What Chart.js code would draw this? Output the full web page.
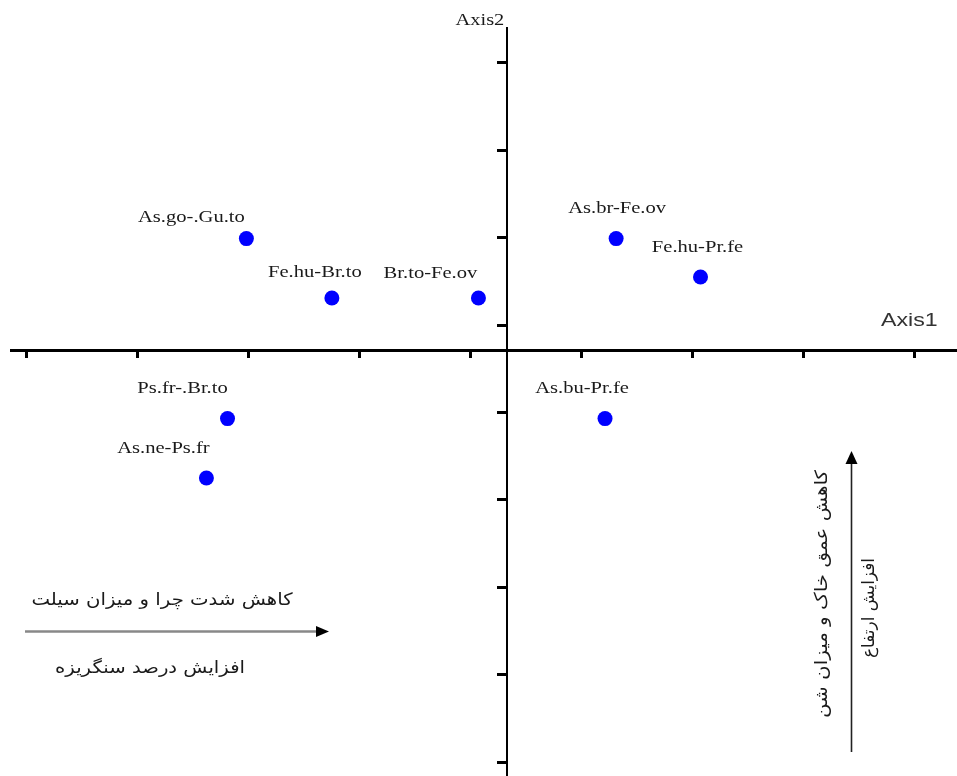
<!DOCTYPE html>
<html><head><meta charset="utf-8">
<script src="https://cdn.jsdelivr.net/npm/chart.js@4/dist/chart.umd.min.js"></script>
<style>html,body{margin:0;padding:0;background:#fff;overflow:hidden}#wrap{width:957px;height:776px}</style>
</head><body><div id="wrap"><canvas id="c" width="957" height="776"></canvas></div>
<script>
// ---- data ----
const siteLabels = ['As.go-.Gu.to','Fe.hu-Br.to','Br.to-Fe.ov','As.br-Fe.ov','Fe.hu-Pr.fe','Ps.fr-.Br.to','As.ne-Ps.fr','As.bu-Pr.fe'];
const axis1Scores = [-2.35, -1.58, -0.26, 0.98, 1.74, -2.52, -2.71, 0.88];
const axis2Scores = [1.28, 0.60, 0.60, 1.28, 0.84, -0.78, -1.46, -0.78];
const axis1Ticks = [-4.33, -3.33, -2.33, -1.33, -0.33, 0.67, 1.67, 2.67, 3.67];
const axis2Ticks = [3.29, 2.29, 1.29, 0.29, -0.71, -1.71, -2.71, -3.71, -4.71];
const axis1Range = [-4.47, 4.05];
const axis2Range = [-4.87, 3.69];
const axis1Title = 'Axis1';
const axis2Title = 'Axis2';
const gradientXTop = 'کاهش شدت چرا و میزان سیلت';
const gradientXBottom = 'افزایش درصد سنگریزه';
const gradientYLeft = 'کاهش عمق خاک و میزان شن';
const gradientYRight = 'افزایش ارتفاع';

// ---- label placement (pixels relative to each point) ----
const labelOffsets = [[-55,-17],[-17,-21],[-48,-20],[1,-26],[-3,-25],[-45,-26],[-43,-25],[-23,-26]];

const points = axis1Scores.map((v,i)=>({x:v, y:axis2Scores[i]}));

function stretchText(ctx, text, x, y, sx){
  ctx.save(); ctx.translate(x,y); ctx.scale(sx,1); ctx.fillText(text,0,0); ctx.restore();
}
function fitText(ctx, text, cx, cy, target, rot){
  const w = ctx.measureText(text).width;
  ctx.save(); ctx.translate(cx,cy); if(rot) ctx.rotate(rot); ctx.scale(target/w,1);
  ctx.textAlign='center'; ctx.textBaseline='middle'; ctx.fillText(text,0,0); ctx.restore();
}

const annotate = {
  id:'annotate',
  afterDatasetsDraw(chart){
    const ctx = chart.ctx;
    const meta = chart.getDatasetMeta(0);
    ctx.save();
    ctx.fillStyle = '#1a1a1a';
    ctx.font = '17px "Liberation Serif", "Times New Roman", serif';
    ctx.textAlign = 'center'; ctx.textBaseline = 'alphabetic';
    meta.data.forEach((el,i)=>{
      stretchText(ctx, siteLabels[i], el.x + labelOffsets[i][0], el.y + labelOffsets[i][1], 1.21);
    });
    // axis titles
    const xs = chart.scales.x;
    ctx.textAlign = 'right';
    stretchText(ctx, axis2Title, xs.getPixelForValue(0) - 3, 25, 1.2);
    ctx.fillStyle = '#333';
    ctx.font = '19px "Liberation Sans", Arial, sans-serif';
    ctx.textAlign = 'left';
    stretchText(ctx, axis1Title, 881, 326, 1.22);

    // horizontal gradient arrow
    ctx.strokeStyle = '#888'; ctx.lineWidth = 2.5;
    ctx.beginPath(); ctx.moveTo(25, 631.5); ctx.lineTo(317, 631.5); ctx.stroke();
    ctx.fillStyle = '#000';
    ctx.beginPath(); ctx.moveTo(316, 626); ctx.lineTo(329, 631.5); ctx.lineTo(316, 637); ctx.closePath(); ctx.fill();
    // vertical gradient arrow
    ctx.strokeStyle = '#222'; ctx.lineWidth = 1.6;
    ctx.beginPath(); ctx.moveTo(851.5, 752); ctx.lineTo(851.5, 462); ctx.stroke();
    ctx.beginPath(); ctx.moveTo(845.5, 464); ctx.lineTo(851.5, 451); ctx.lineTo(857.5, 464); ctx.closePath(); ctx.fill();

    ctx.fillStyle = '#1a1a1a';
    ctx.font = '17px "DejaVu Sans", sans-serif';
    fitText(ctx, gradientXTop, 162, 601, 261, 0);
    fitText(ctx, gradientXBottom, 150, 669, 190, 0);
    fitText(ctx, gradientYLeft, 823, 594, 248, -Math.PI/2);
    fitText(ctx, gradientYRight, 870, 608, 100, -Math.PI/2);
    ctx.restore();
  }
};

new Chart(document.getElementById('c'), {
  type:'scatter',
  data:{datasets:[{data:points, backgroundColor:'#0000ff', borderColor:'#0000ff', pointRadius:7.5, pointHoverRadius:7.5, borderWidth:0}]},
  options:{
    responsive:false, animation:false, devicePixelRatio:1,
    layout:{autoPadding:false, padding:{left:11, top:28, right:0, bottom:0}},
    plugins:{legend:{display:false}, tooltip:{enabled:false}},
    scales:{
      x:{type:'linear', min:axis1Range[0], max:axis1Range[1], position:{y:0},
         afterFit(s){s.height=0;},
         afterBuildTicks(s){s.ticks = axis1Ticks.map(v=>({value:v}));},
         ticks:{display:false},
         grid:{drawOnChartArea:false, drawTicks:true, tickLength:6, lineWidth:3, color:'#000', tickColor:'#000'},
         border:{display:true, width:3, color:'#000'}},
      y:{type:'linear', min:axis2Range[0], max:axis2Range[1], position:{x:0},
         afterFit(s){s.width=0;},
         afterBuildTicks(s){s.ticks = axis2Ticks.map(v=>({value:v}));},
         ticks:{display:false},
         grid:{drawOnChartArea:false, drawTicks:true, tickLength:9, lineWidth:3, color:'#000', tickColor:'#000'},
         border:{display:true, width:2, color:'#000'}}
    }
  },
  plugins:[annotate]
});
</script></body></html>
